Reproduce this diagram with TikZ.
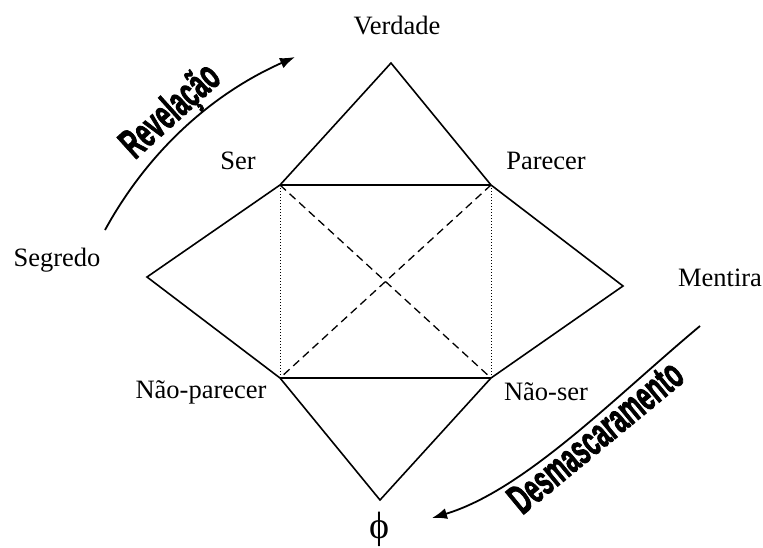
\documentclass[tikz,border=0pt]{standalone}
\usepackage{graphicx}
\usepackage{fontspec}
\setmainfont{Liberation Serif}
\newfontfamily\wordart[BoldFeatures={FakeBold=2.5}]{Liberation Sans}
\usetikzlibrary{arrows.meta}

\begin{document}
\begin{tikzpicture}[x=1pt,y=-1pt,>={Latex[length=15pt,width=11pt]},
  lbl/.style={font=\fontsize{26.5}{30}\selectfont,inner sep=0pt},
  arrowlbl/.style={font=\wordart\bfseries\fontsize{42}{44}\selectfont,inner sep=0pt,sloped},
  side/.style={line width=1.6pt,line join=miter},
  bow/.style={->,line width=1.8pt}]
  \useasboundingbox (0,0) rectangle (763,547);
  % vertices of the outer figure
  \coordinate (V) at (391,63);
  \coordinate (TL) at (280,185);
  \coordinate (TR) at (491,185);
  \coordinate (L) at (147,277);
  \coordinate (R) at (623,286);
  \coordinate (BL) at (280,378);
  \coordinate (BR) at (491,378);
  \coordinate (B) at (380,500);
  \draw[side] (V) -- (TR) -- (R) -- (BR) -- (B) -- (BL) -- (L) -- (TL) -- cycle;
  \draw[side] (TL) -- (TR);
  \draw[side] (BL) -- (BR);
  \draw[line width=1pt,dash pattern=on 1pt off 2pt] (TL) -- (BL) (TR) -- (BR);
  \draw[line width=1.3pt,dash pattern=on 8pt off 5pt] (TL) -- (BR) (TR) -- (BL);
  % labels
  \node[lbl] (verdade) at (397,26) {Verdade};
  \node[lbl] (ser) at (238,161) {Ser};
  \node[lbl] (parecer) at (546,161) {Parecer};
  \node[lbl] (segredo) at (57,260) {Segredo};
  \node[lbl] (mentira) at (720,278) {Mentira};
  \node[lbl] (naoparecer) at (201,392) {Não-parecer};
  \node[lbl] (naoser) at (546,392) {Não-ser};
  \node[lbl,font=\fontsize{38}{40}\selectfont] (phi) at (379,529) {ϕ};
  % curved arrows
  \coordinate (revA) at (105,230);
  \coordinate (revB) at (295,57);
  \draw[bow] (revA) .. controls (148.5,150.6) and (212.5,93.6) .. node[arrowlbl,above,pos=0.5] (rev) {\scalebox{0.57}[1]{Revelação}} (revB);
  \coordinate (desA) at (700,326);
  \coordinate (desB) at (432,518);
  \draw[bow,<-] (desB) .. controls (525,490) and (616,396) .. node[arrowlbl,below,pos=0.56] (desm) {\scalebox{0.57}[1]{Desmascaramento}} (desA);
\end{tikzpicture}
\end{document}
